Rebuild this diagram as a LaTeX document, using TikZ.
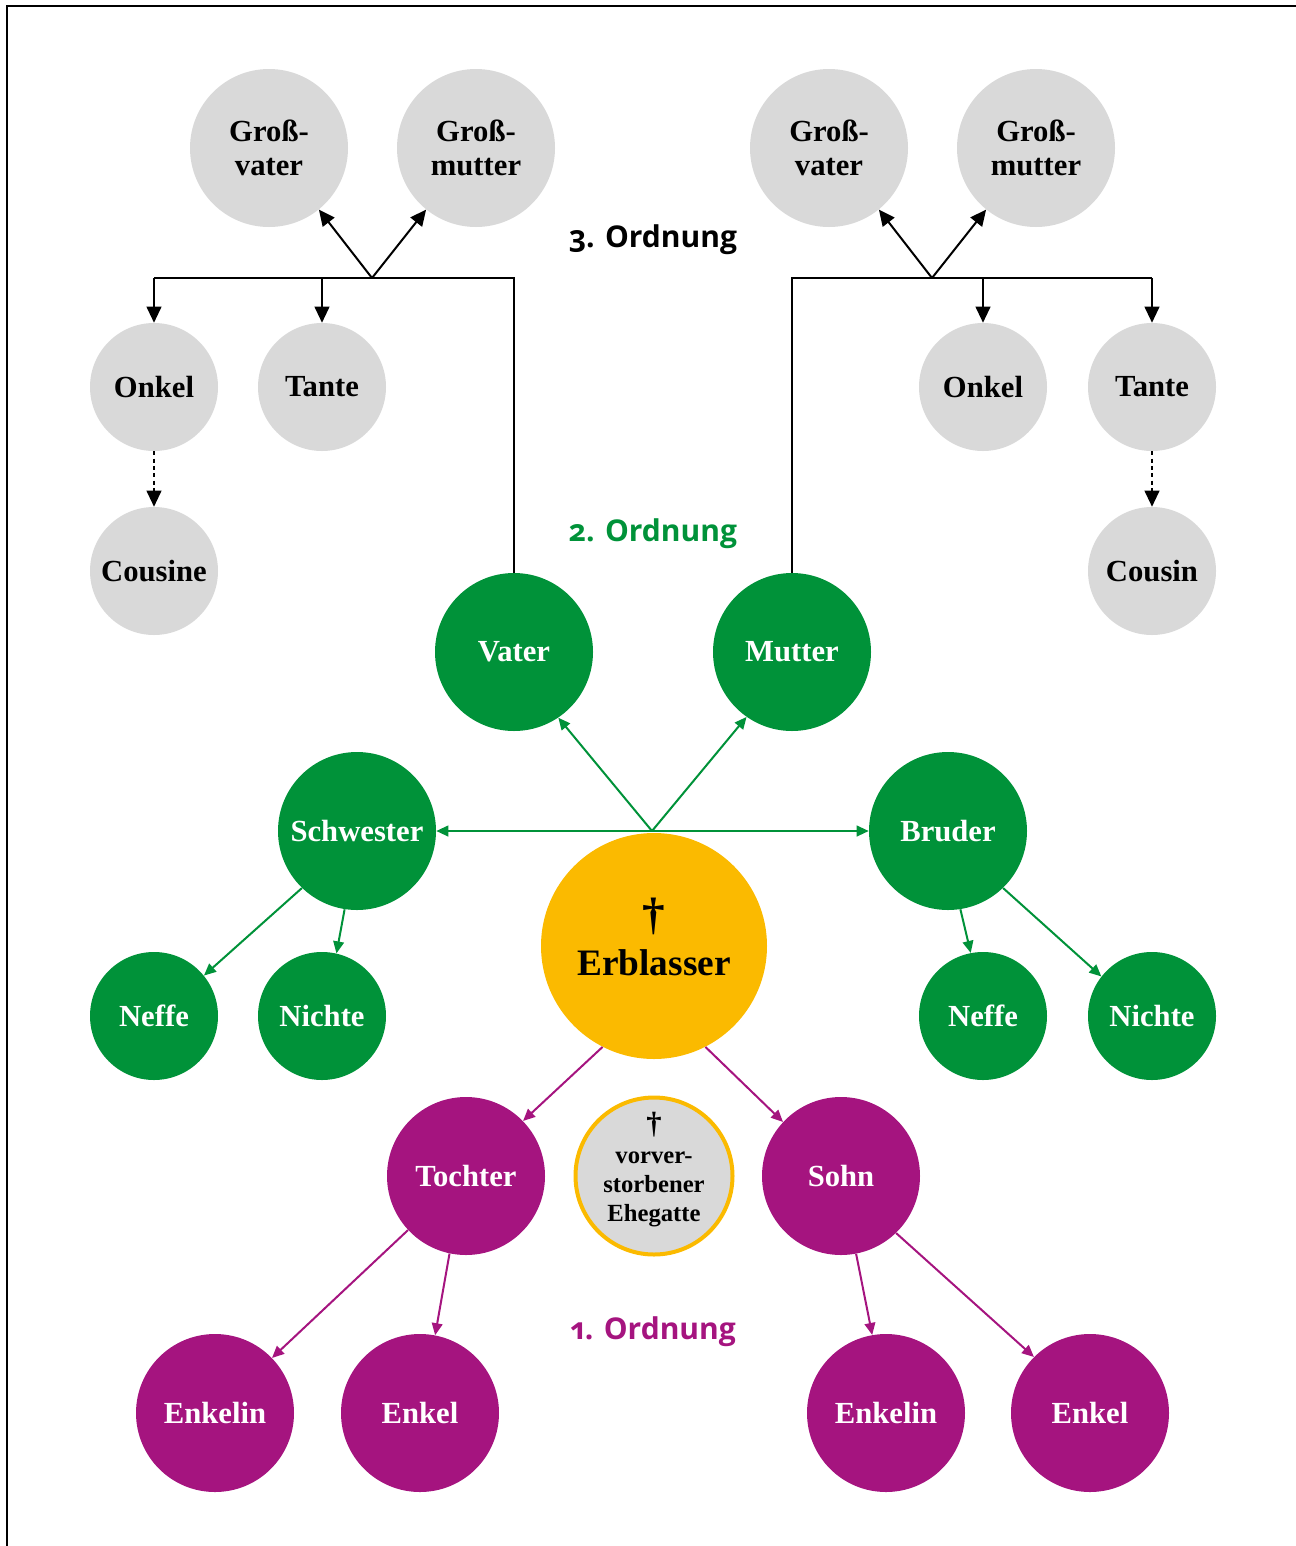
\documentclass[tikz,border=0pt]{standalone}
\usepackage{fontspec}
\setmainfont{Liberation Serif}
\newfontfamily\ordfont{Open Sans}[Numbers=OldStyle]
\usetikzlibrary{arrows.meta}
\definecolor{cgray}{HTML}{D9D9D9}
\definecolor{cgreen}{HTML}{009239}
\definecolor{cgold}{HTML}{FBBA00}
\definecolor{cpurple}{HTML}{A5147F}
\begin{document}
\begin{tikzpicture}[x=0.75pt,y=-0.75pt,
  base/.style={circle,inner sep=0pt,align=center,font=\fontsize{23}{25}\selectfont\bfseries},
  biggray/.style={base,fill=cgray,minimum size=118.5pt},
  smallgray/.style={base,fill=cgray,minimum size=96pt},
  greenbig/.style={base,fill=cgreen,text=white,minimum size=118.5pt},
  greensmall/.style={base,fill=cgreen,text=white,minimum size=96pt},
  purplenode/.style={base,fill=cpurple,text=white,minimum size=118.5pt},
  blk/.style={line width=1.5pt,black},
  blkarrow/.style={blk,-{Triangle[length=12pt,width=11pt]}},
  dotarrow/.style={blk,dash pattern=on 3pt off 2.5pt,-{Triangle[length=12pt,width=11pt]}},
  garrow/.style={line width=1.5pt,cgreen,-{Triangle[length=9pt,width=8pt]}},
  parrow/.style={line width=1.5pt,cpurple,-{Triangle[length=9pt,width=8pt]}},
  ordlabel/.style={font=\ordfont\fontsize{22.5}{24}\selectfont\bfseries,inner sep=0pt}
]
\useasboundingbox (0,0) rectangle (1296,1546);
\draw[line width=1.5pt] (7,1546) -- (7,6) -- (1296,6);

% grandparents
\node[biggray] (gvL) at (269,148) {Groß-\\vater};
\node[biggray] (gmL) at (476,148) {Groß-\\mutter};
\node[biggray] (gvR) at (829,148) {Groß-\\vater};
\node[biggray] (gmR) at (1036,148) {Groß-\\mutter};
% uncles etc.
\node[smallgray] (onkL) at (154,387) {Onkel};
\node[smallgray] (tanL) at (322,387) {Tante};
\node[smallgray] (cousL) at (154,571) {Cousine};
\node[smallgray] (onkR) at (983,387) {Onkel};
\node[smallgray] (tanR) at (1152,387) {Tante};
\node[smallgray] (cousR) at (1152,571) {Cousin};
% parents
\node[greenbig] (vater) at (514,652) {Vater};
\node[greenbig] (mutter) at (792,652) {Mutter};
\node[greenbig] (schw) at (357,831) {Schwester};
\node[greenbig] (brud) at (948,831) {Bruder};
\node[greensmall] (neffL) at (154,1016) {Neffe};
\node[greensmall] (nichL) at (322,1016) {Nichte};
\node[greensmall] (neffR) at (983,1016) {Neffe};
\node[greensmall] (nichR) at (1152,1016) {Nichte};
% Erblasser
\node[base,fill=cgold,minimum size=169.5pt] (erb) at (654,946) {};
\node[align=center,inner sep=0pt,font=\fontsize{28}{30}\selectfont\bfseries] (erbtext) at (654,937) {\fontsize{34}{30}\selectfont †\\[4pt]Erblasser};
% spouse
\node[base,fill=cgray,draw=cgold,line width=3pt,minimum size=117.75pt] (ehe) at (654,1176) {};
\node[align=center,inner sep=0pt,font=\fontsize{18.5}{22}\selectfont\bfseries] (ehetext) at (654,1170) {\fontsize{23}{22}\selectfont †\\vorver-\\storbener\\Ehegatte};
% children
\node[purplenode] (toch) at (466,1176) {Tochter};
\node[purplenode] (sohn) at (841,1176) {Sohn};
\node[purplenode] (enkinL) at (215,1413) {Enkelin};
\node[purplenode] (enkL) at (420,1413) {Enkel};
\node[purplenode] (enkinR) at (886,1413) {Enkelin};
\node[purplenode] (enkR) at (1090,1413) {Enkel};

% labels
\node[ordlabel,text=black] (o3) at (653,240) {3. Ordnung};
\node[ordlabel,text=cgreen] (o2) at (653,534) {2. Ordnung};
\node[ordlabel,text=cpurple] (o1) at (653,1332) {1. Ordnung};

% third order connectors
\coordinate (JL) at (372,278);
\coordinate (JR) at (932,278);
\draw[blk] (vater.north) -- (vater.north |- JL) -- (onkL.north |- JL);
\draw[blkarrow] (onkL.north |- JL) -- (onkL.north);
\draw[blkarrow] (tanL.north |- JL) -- (tanL.north);
\draw[blkarrow] (JL) -- (gvL.309);
\draw[blkarrow] (JL) -- (gmL.231.6);
\draw[blk] (mutter.north) -- (mutter.north |- JR) -- (tanR.north |- JR);
\draw[blkarrow] (onkR.north |- JR) -- (onkR.north);
\draw[blkarrow] (tanR.north |- JR) -- (tanR.north);
\draw[blkarrow] (JR) -- (gvR.309);
\draw[blkarrow] (JR) -- (gmR.231.6);
\draw[dotarrow] (onkL.south) -- (cousL.north);
\draw[dotarrow] (tanR.south) -- (cousR.north);

% second order connectors
\coordinate (JG) at (652,831);
\draw[garrow] (JG) -- (vater.304.5);
\draw[garrow] (JG) -- (mutter.235.5);
\draw[line width=1.5pt,cgreen,{Triangle[length=9pt,width=8pt]}-{Triangle[length=9pt,width=8pt]}] (schw.east) -- (brud.west);
\draw[garrow] (schw.226) -- (neffL.39);
\draw[garrow] (schw.261) -- (nichL.77);
\draw[garrow] (brud.279) -- (neffR.101);
\draw[garrow] (brud.314.5) -- (nichR.142);

% first order connectors
\draw[parrow] (erb.243) -- (toch.44);
\draw[parrow] (erb.297) -- (sohn.137);
\draw[parrow] (toch.223) -- (enkinL.44);
\draw[parrow] (toch.258) -- (enkL.79);
\draw[parrow] (sohn.281) -- (enkinR.100);
\draw[parrow] (sohn.314.5) -- (enkR.135.5);
\end{tikzpicture}
\end{document}
